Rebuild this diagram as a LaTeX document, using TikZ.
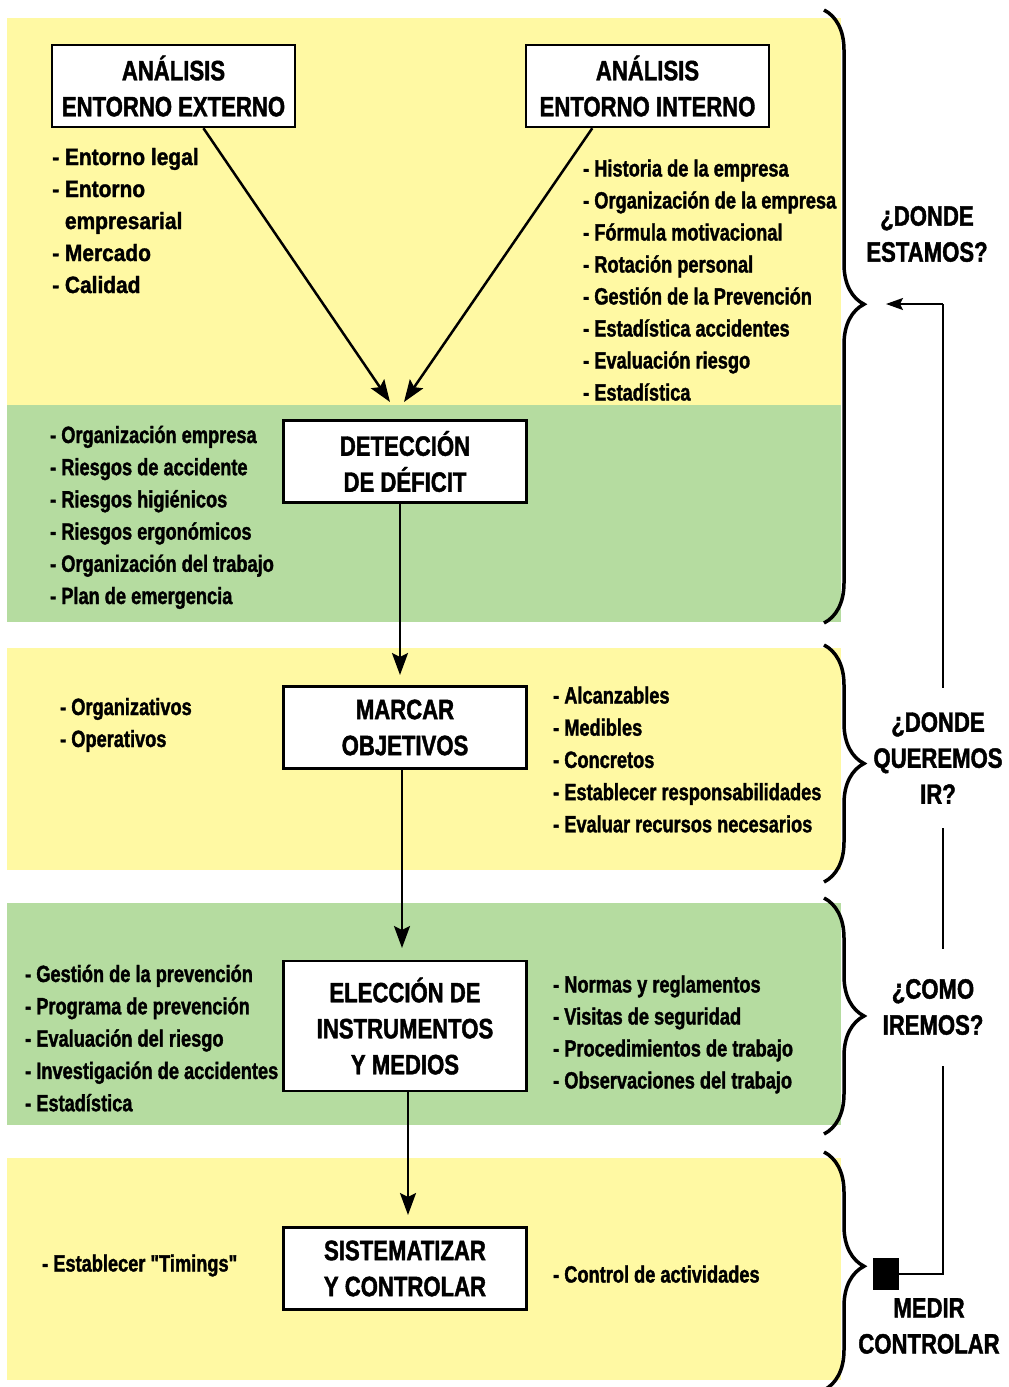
\documentclass[tikz,border=0pt]{standalone}
\usepackage{fontspec}
\setmainfont{Liberation Sans}
\newfontfamily\condB{Liberation Sans Bold}[FakeStretch=0.775, FakeBold=1.5]
\newfontfamily\condBw{Liberation Sans Bold}[FakeStretch=0.89, FakeBold=1.5]
\newfontfamily\condT{Liberation Sans Bold}[FakeStretch=0.79, FakeBold=1.5]
\usetikzlibrary{arrows.meta,decorations.pathreplacing,calc}
\definecolor{ylw}{HTML}{FFF9A3}
\definecolor{grn}{HTML}{B5DCA0}
\begin{document}
\begin{tikzpicture}[x=1pt,y=-1pt,
  every node/.style={inner sep=0pt},
  listitem/.style={anchor=base west, font=\condB\fontsize{23.5}{28}\selectfont},
  listwide/.style={anchor=base west, font=\condBw\fontsize{23.5}{28}\selectfont},
  titlebox/.style={draw, line width=2.5pt, fill=white, align=center,
    font=\condT\fontsize{28}{36}\selectfont, minimum width=243pt, minimum height=82pt},
  sidelabel/.style={align=center, font=\condT\fontsize{28}{36}\selectfont},
  flow/.style={line width=2.5pt, -{Stealth[length=22pt,width=16pt,inset=4pt]}},
  fb/.style={line width=2pt},
  fbarrow/.style={line width=2pt, -{Stealth[length=17pt,width=12pt,inset=3pt]}},
  bracestyle/.style={decorate, decoration={brace, amplitude=40pt, aspect=#1}, line width=3.5pt},
  bracestyle/.default=0.5]
\useasboundingbox (0,0) rectangle (1009,1387);
% bands
\fill[ylw] (7,18) rectangle (841,405);
\fill[grn] (7,405) rectangle (841,622);
\fill[ylw] (7,648) rectangle (841,870);
\fill[grn] (7,903) rectangle (841,1125);
\fill[ylw] (7,1158) rectangle (841,1380);
% braces
\draw[bracestyle=0.48] (824,10) -- (824,623);
\draw[bracestyle] (824,645) -- (824,882);
\draw[bracestyle] (824,898) -- (824,1134);
\draw[bracestyle=0.48] (824,1152) -- (824,1390);
% boxes
\node[titlebox] (A) at (173.5,86) {ANÁLISIS\\ENTORNO EXTERNO};
\node[titlebox] (B) at (647.5,86) {ANÁLISIS\\ENTORNO INTERNO};
\node[titlebox] (C) at (405,461.5) {DETECCIÓN\\DE DÉFICIT};
\node[titlebox] (D) at (405,727.5) {MARCAR\\OBJETIVOS};
\node[titlebox, minimum height=130pt] (E) at (405,1026) {ELECCIÓN DE\\INSTRUMENTOS\\Y MEDIOS};
\node[titlebox] (F) at (405,1268.5) {SISTEMATIZAR\\Y CONTROLAR};
% arrow targets
\coordinate (tA) at (390,402);
\coordinate (tB) at (404,402);
\coordinate (tD) at (400,675);
\coordinate (tE) at (402,948);
\coordinate (tF) at (408,1215);
\draw[flow] ($(A.south west)!0.622!(A.south east)$) -- (tA);
\draw[flow] ($(B.south west)!0.275!(B.south east)$) -- (tB);
\draw[flow] (C.south -| tD) -- (tD);
\draw[flow] (D.south -| tE) -- (tE);
\draw[flow] (E.south -| tF) -- (tF);
% feedback loop
\node[fill=black, minimum width=26pt, minimum height=32pt] (sq) at (886,1274) {};
\coordinate (fbC) at (943,304);
\coordinate (fbTip) at (886,304);
\draw[fb] (sq.east) -| (fbC);
\draw[fbarrow] (fbC) -- (fbTip);
% side labels
\node[sidelabel] (L1) at (927,234) {¿DONDE\\ESTAMOS?};
\node[sidelabel, fill=white, minimum height=140pt] (L2) at (938,758) {¿DONDE\\QUEREMOS\\IR?};
\node[sidelabel, fill=white, minimum height=117pt] (L3) at (933,1007) {¿COMO\\IREMOS?};
\node[sidelabel] (L4) at (929,1326) {MEDIR\\CONTROLAR};
% lists
\foreach \t [count=\i from 0] in {- Entorno legal, - Entorno, \phantom{- }empresarial, - Mercado, - Calidad}
  \node[listwide] (la\i) at (52,{165+32*\i}) {\t};
\foreach \t [count=\i from 0] in {- Historia de la empresa, - Organización de la empresa, - Fórmula motivacional, - Rotación personal, - Gestión de la Prevención, - Estadística accidentes, - Evaluación riesgo, - Estadística}
  \node[listitem] (lb\i) at (583,{176.5+32*\i}) {\t};
\foreach \t [count=\i from 0] in {- Organización empresa, - Riesgos de accidente, - Riesgos higiénicos, - Riesgos ergonómicos, - Organización del trabajo, - Plan de emergencia}
  \node[listitem] (lc\i) at (50,{443+32.2*\i}) {\t};
\foreach \t [count=\i from 0] in {- Organizativos, - Operativos}
  \node[listitem] (ld\i) at (60,{715+32*\i}) {\t};
\foreach \t [count=\i from 0] in {- Alcanzables, - Medibles, - Concretos, - Establecer responsabilidades, - Evaluar recursos necesarios}
  \node[listitem] (le\i) at (553,{703.5+32.2*\i}) {\t};
\foreach \t [count=\i from 0] in {- Gestión de la prevención, - Programa de prevención, - Evaluación del riesgo, - Investigación de accidentes, - Estadística}
  \node[listitem] (lf\i) at (25,{982+32.3*\i}) {\t};
\foreach \t [count=\i from 0] in {- Normas y reglamentos, - Visitas de seguridad, - Procedimientos de trabajo, - Observaciones del trabajo}
  \node[listitem] (lg\i) at (553,{992.5+32*\i}) {\t};
\node[listitem] (lh0) at (42,1271.5) {- Establecer "Timings"};
\node[listitem] (li0) at (553,1282.5) {- Control de actividades};
\end{tikzpicture}
\end{document}
